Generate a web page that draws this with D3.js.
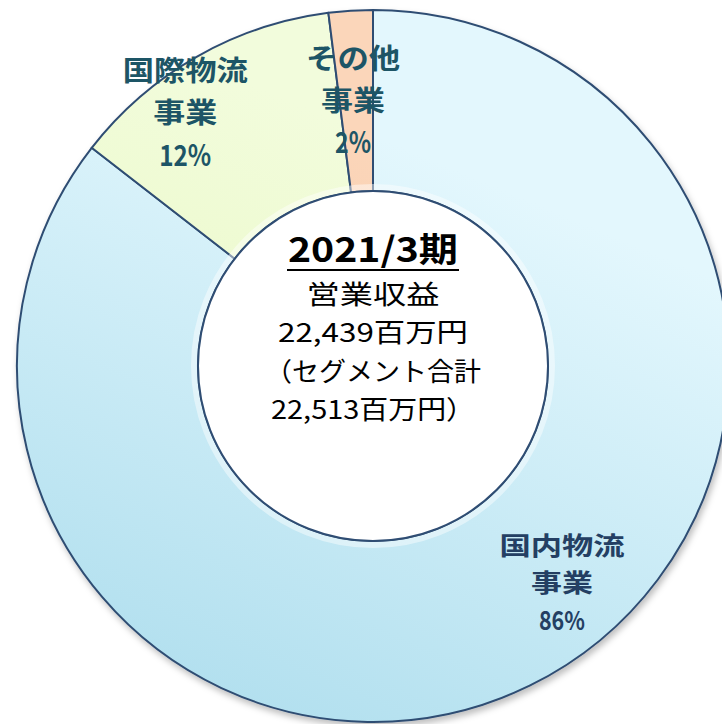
<!DOCTYPE html>
<html><head><meta charset="utf-8">
<script src="https://cdn.jsdelivr.net/npm/d3@7"></script>
<style>html,body{margin:0;padding:0;background:#fff;}svg{display:block;}</style>
</head><body>
<svg id="chart" width="722" height="724"></svg>
<script>
// ---- data ----
const categories = ["国内物流事業", "国際物流事業", "その他事業"];
const shares = [85.5, 12.5, 2.0];
const labelLines = [["国内物流", "事業", "86%"], ["国際物流", "事業", "12%"], ["その他", "事業", "2%"]];
const centerTitle = "2021/3期";
const centerLines = ["営業収益", "22,439百万円", "（セグメント合計", "22,513百万円）"];

// ---- layout ----
const W = 722, H = 724;
const cx = 373, cy = 366, rOuter = 356, rInner = 175;
const gradStops = [["#e3f7fd", "#a2d8ea"], ["#f2fcdc", "#e2f6b0"], ["#fbd6ba", "#f5bd95"]];
const labelColor = ["#243f63", "#1d5566", "#1d5566"];
const labelPlace = [{ang: 139, r: 288, lh: 37, fs: 25, w: [125, 62, 46]},
                    {ang: 323.4, r: 315, lh: 42, fs: 28, w: [125, 64, 52]},
                    {ang: 355.7, r: 266, lh: 42, fs: 28, w: [94, 64, 36]}];
const cjk = "'Noto Sans CJK JP', sans-serif";

const svg = d3.select("#chart");
const defs = svg.append("defs");
gradStops.forEach((g, i) => {
  const lg = defs.append("linearGradient").attr("id", "g" + i)
    .attr("gradientUnits", "userSpaceOnUse")
    .attr("x1", cx + 200).attr("y1", cy - rOuter).attr("x2", cx - 100).attr("y2", cy + rOuter);
  lg.append("stop").attr("offset", 0).attr("stop-color", g[0]);
  lg.append("stop").attr("offset", 1).attr("stop-color", g[1]);
});
const f = defs.append("filter").attr("id", "sh").attr("x", "-10%").attr("y", "-10%").attr("width", "120%").attr("height", "120%");
f.append("feDropShadow").attr("dx", 2).attr("dy", 4).attr("stdDeviation", 3).attr("flood-color", "#000").attr("flood-opacity", 0.25);

const pie = d3.pie().sort(null).value(d => d)(shares);
const arc = d3.arc().innerRadius(rInner).outerRadius(rOuter);
const g = svg.append("g").attr("transform", `translate(${cx},${cy})`);

g.append("g").attr("filter", "url(#sh)")
  .selectAll("path").data(pie).join("path")
  .attr("d", arc)
  .attr("fill", (d, i) => `url(#g${i})`)
  .attr("stroke", "#2f4d73").attr("stroke-width", 2).attr("stroke-linejoin", "round");

// soft inner highlight along the hole edge
g.append("circle").attr("r", rInner + 4).attr("fill", "none")
  .attr("stroke", "#ffffff").attr("stroke-opacity", 0.45).attr("stroke-width", 6);
g.append("circle").attr("r", rInner).attr("fill", "#fff")
  .attr("stroke", "#2f4d73").attr("stroke-width", 2);

// labels
pie.forEach((d, i) => {
  const p = labelPlace[i];
  const a = p.ang * Math.PI / 180;
  const x = p.r * Math.sin(a), y = -p.r * Math.cos(a);
  const lines = labelLines[i];
  lines.forEach((s, k) => {
    const isPct = /%/.test(s);
    g.append("text").attr("text-anchor", "middle")
      .attr("font-family", cjk).attr("font-weight", "bold")
      .attr("font-size", isPct ? p.fs + 1 : p.fs).attr("fill", labelColor[i])
      .attr("x", x).attr("y", y + (k - (lines.length - 1) / 2) * p.lh)
      .attr("dy", "0.36em")
      .attr("textLength", p.w[k]).attr("lengthAdjust", "spacingAndGlyphs")
      .text(s);
  });
});

// center text
const ct = g.append("g").attr("fill", "#000").attr("text-anchor", "middle").attr("font-family", cjk);
ct.append("text").attr("x", 0).attr("y", 250 - cy).attr("dy", "0.36em")
  .attr("font-size", 34).attr("font-weight", "bold")
  .attr("textLength", 170).attr("lengthAdjust", "spacingAndGlyphs").text(centerTitle);
ct.append("line").attr("x1", -86).attr("x2", 86).attr("y1", 270 - cy).attr("y2", 270 - cy)
  .attr("stroke", "#000").attr("stroke-width", 2);
const cy0 = [295, 333, 372, 410];
const widths = [133, 190, 216, 204];
centerLines.forEach((s, k) => {
  ct.append("text").attr("x", 0).attr("y", cy0[k] - cy).attr("dy", "0.36em")
    .attr("font-size", 26)
    .attr("textLength", widths[k]).attr("lengthAdjust", "spacingAndGlyphs").text(s);
});
</script>
</body></html>
